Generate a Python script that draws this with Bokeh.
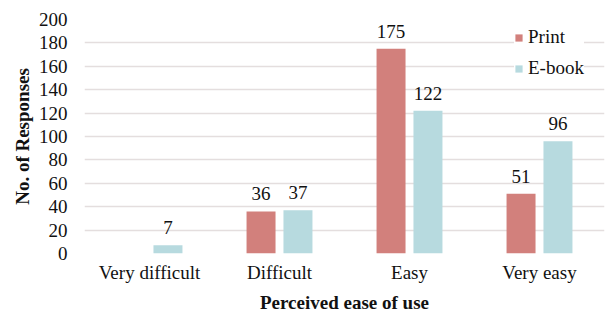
from bokeh.plotting import figure
from bokeh.models import ColumnDataSource, FactorRange, FixedTicker, Legend, LegendItem
from bokeh.transform import dodge
from bokeh.core.properties import value
from bokeh.embed import file_html
from bokeh.resources import INLINE

categories = ["Very difficult", "Difficult", "Easy", "Very easy"]
print_vals = [0, 36, 175, 51]
ebook_vals = [7, 37, 122, 96]
y_ticks = [0, 20, 40, 60, 80, 100, 120, 140, 160, 180, 200]

PRINT_COLOR = "#D2807C"
EBOOK_COLOR = "#B7DADF"
GRID_COLOR = "#E4DEDE"
FONT = "'Liberation Serif', 'Times New Roman', serif"

src = ColumnDataSource(dict(cat=categories, p=print_vals, e=ebook_vals))
p_lab = ColumnDataSource(dict(cat=[c for c, v in zip(categories, print_vals) if v > 0],
                              v=[v for v in print_vals if v > 0],
                              t=[str(v) for v in print_vals if v > 0]))
e_lab = ColumnDataSource(dict(cat=[c for c, v in zip(categories, ebook_vals) if v > 0],
                              v=[v for v in ebook_vals if v > 0],
                              t=[str(v) for v in ebook_vals if v > 0]))

p = figure(x_range=FactorRange(*categories, range_padding=0), y_range=(0, 200),
           frame_width=520, frame_height=234,
           min_border_left=84, min_border_right=2, min_border_top=19, min_border_bottom=59,
           output_backend="svg", toolbar_location=None)

off = 0.142
bw = 0.223
r1 = p.vbar(x=dodge("cat", -off, range=p.x_range), top="p", width=bw, source=src,
            fill_color=PRINT_COLOR, line_color=None)
r2 = p.vbar(x=dodge("cat", off, range=p.x_range), top="e", width=bw, source=src,
            fill_color=EBOOK_COLOR, line_color=None)

for s, o in ((p_lab, -off), (e_lab, off)):
    p.text(x=dodge("cat", o, range=p.x_range), y="v", text="t", source=s,
           text_align="center", text_baseline="bottom", y_offset=-11,
           text_font=value(FONT), text_font_size="19px", text_color="#111111")

p.outline_line_color = None
p.xgrid.grid_line_color = None
p.ygrid.grid_line_color = GRID_COLOR
p.ygrid.grid_line_width = 1.5
p.yaxis.ticker = FixedTicker(ticks=y_ticks)

for ax in (p.xaxis[0], p.yaxis[0]):
    ax.axis_line_color = None
    ax.major_tick_line_color = None
    ax.minor_tick_line_color = None
    ax.major_tick_out = 0
    ax.major_tick_in = 0
    ax.major_label_text_font = FONT
    ax.major_label_text_font_size = "19px"
    ax.major_label_text_color = "#111111"
    ax.axis_label_text_font = FONT
    ax.axis_label_text_font_size = "19px"
    ax.axis_label_text_font_style = "bold"
    ax.axis_label_text_color = "#111111"

p.xaxis.axis_label = "Perceived ease of use"
p.yaxis.axis_label = "No. of Responses"
p.xaxis.major_label_standoff = 8
p.xaxis.axis_label_standoff = 6
p.yaxis.major_label_standoff = 17
p.yaxis.axis_label_standoff = 3

legend = Legend(items=[LegendItem(label="Print", renderers=[r1]),
                       LegendItem(label="E-book", renderers=[r2])],
                location=(430, 174), padding=5, spacing=9,
                glyph_width=9, glyph_height=9, label_standoff=5,
                label_text_font=FONT, label_text_font_size="19px", label_text_color="#111111",
                border_line_color=None, background_fill_color="white", background_fill_alpha=1.0)
p.add_layout(legend)

open("out.html", "w").write(file_html(p, INLINE))
